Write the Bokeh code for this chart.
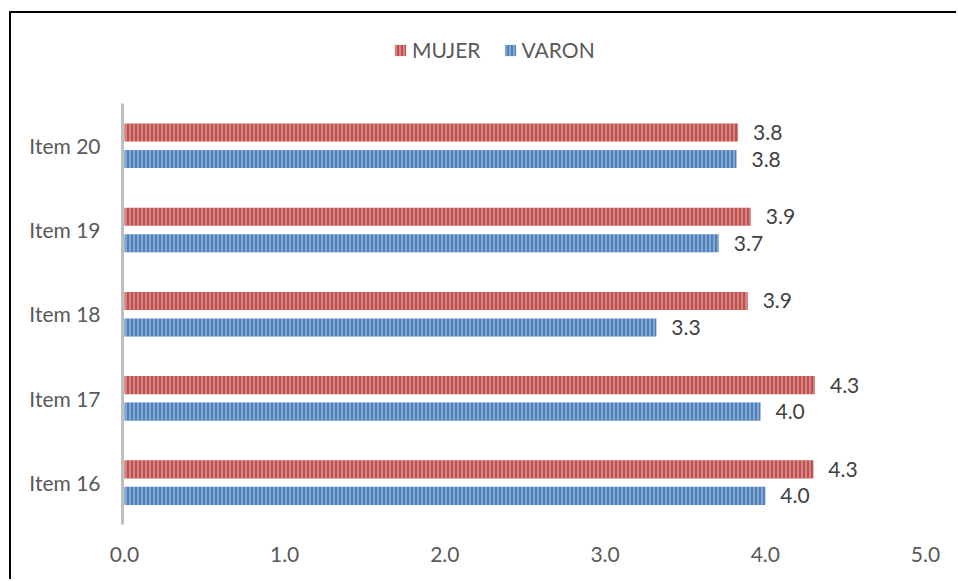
from bokeh.plotting import figure
from bokeh.models import Range1d, ColumnDataSource, Legend, LegendItem, FixedTicker
from bokeh.transform import dodge
from bokeh.embed import file_html
from bokeh.resources import INLINE
from bokeh.core.properties import value

items = ["Item 16", "Item 17", "Item 18", "Item 19", "Item 20"]
mujer = [4.30, 4.31, 3.89, 3.91, 3.83]
varon = [4.00, 3.97, 3.32, 3.71, 3.82]
x_ticks = [0, 1, 2, 3, 4, 5]
x_tick_labels = ["0.0", "1.0", "2.0", "3.0", "4.0", "5.0"]

FONT = "Lato"
RED = "#C0504D"
BLUE = "#4F81BD"
idx = list(range(len(items)))

src = ColumnDataSource(dict(
    idx=idx,
    item=items,
    mujer=mujer,
    varon=varon,
    mujer_lbl=[f"{v:.1f}" for v in mujer],
    varon_lbl=[f"{v:.1f}" for v in varon],
))

p = figure(width=947, height=568, output_backend="svg", toolbar_location=None,
           x_range=Range1d(-0.012, 5), y_range=Range1d(-0.5, len(items) + 0.545),
           min_border_left=111, min_border_right=33, min_border_bottom=57, min_border_top=2)
p.styles = {"border-top": "2px solid black", "border-left": "2px solid black",
            "margin-left": "9px", "margin-top": "11px"}
p.outline_line_color = None
p.grid.grid_line_color = None
p.background_fill_color = "white"
p.border_fill_color = "white"

hatch = dict(hatch_pattern="vertical_line", hatch_color="white", hatch_alpha=0.5,
             hatch_scale=4, hatch_weight=1.2, line_color=None)

r_m = p.hbar(y=dodge("idx", 0.155), right="mujer", left=0, height=0.215,
             fill_color=RED, source=src, **hatch)
r_v = p.hbar(y=dodge("idx", -0.16), right="varon", left=0, height=0.215,
             fill_color=BLUE, source=src, **hatch)

txt = dict(text_font=value(FONT), text_font_size="21px", text_color="#404040",
           text_baseline="middle", text_align="left", x_offset=15)
p.text(x="mujer", y=dodge("idx", 0.155), text="mujer_lbl", source=src, **txt)
p.text(x="varon", y=dodge("idx", -0.16), text="varon_lbl", source=src, **txt)

p.xaxis.ticker = FixedTicker(ticks=x_ticks)
p.xaxis.major_label_overrides = {t: l for t, l in zip(x_ticks, x_tick_labels)}
p.xaxis.axis_line_color = None
p.xaxis.major_tick_line_color = None
p.xaxis.minor_tick_line_color = None
p.xaxis.major_label_standoff = 16
p.xaxis.major_label_text_font = FONT
p.xaxis.major_label_text_font_size = "21px"
p.xaxis.major_label_text_color = "#595959"

p.yaxis.ticker = FixedTicker(ticks=idx)
p.yaxis.major_label_overrides = {i: s for i, s in zip(idx, items)}
p.yaxis.bounds = (-0.5, len(items) - 0.5)
p.yaxis.axis_line_color = "#BFBFBF"
p.yaxis.axis_line_width = 3
p.yaxis.major_tick_line_color = None
p.yaxis.minor_tick_line_color = None
p.yaxis.major_label_standoff = 16
p.yaxis.major_label_text_font = FONT
p.yaxis.major_label_text_font_size = "21px"
p.yaxis.major_label_text_color = "#595959"

legend = Legend(items=[LegendItem(label="MUJER", renderers=[r_m]),
                       LegendItem(label="VARON", renderers=[r_v])],
                orientation="horizontal", location=(271, 462),
                label_text_font=FONT, label_text_font_size="21px", label_text_color="#595959",
                glyph_width=14, glyph_height=14, spacing=22, label_standoff=5,
                border_line_color=None, background_fill_alpha=0, padding=5, margin=0)
p.add_layout(legend)

open("out.html", "w").write(file_html(p, INLINE))
